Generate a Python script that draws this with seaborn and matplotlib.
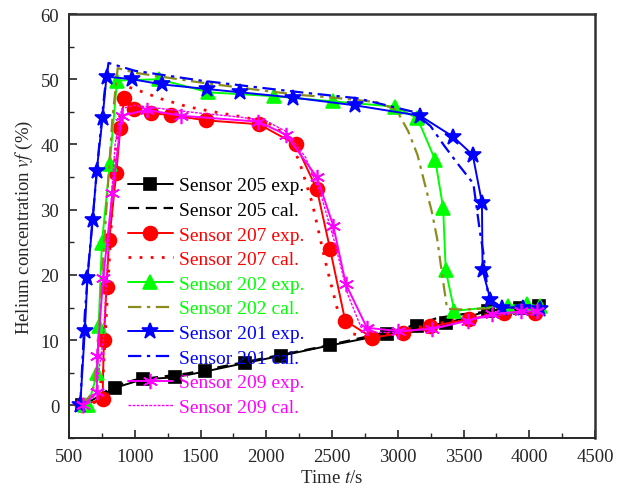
import numpy as np
import pandas as pd
import matplotlib
matplotlib.use("Agg")
import matplotlib.pyplot as plt
import seaborn as sns
from matplotlib.ticker import MultipleLocator

sns.set_style("ticks")
plt.rcParams["font.family"] = ["Liberation Serif", "DejaVu Serif"]
plt.rcParams["mathtext.fontset"] = "stix"

# Sensor 205
t205_exp = [600, 850, 1060, 1305, 1535, 1840, 2110, 2485, 2915, 3150, 3370, 3690, 3930, 4075]
c205_exp = [0, 2.7, 4.0, 4.3, 5.2, 6.5, 7.6, 9.2, 10.9, 12.1, 12.6, 14.5, 15.0, 15.2]
t205_cal = [600, 700, 800, 900, 1000, 1200, 1400, 1600, 1800, 2000, 2200, 2400, 2600, 2800,
            3000, 3200, 3300, 3500, 3800, 4080]
c205_cal = [0, 1.2, 2.4, 3.3, 3.9, 4.4, 4.9, 5.7, 6.5, 7.3, 8.1, 8.9, 9.8, 10.7,
            11.6, 12.7, 13.4, 14.0, 14.6, 15.0]

# Sensor 207
t207_exp = [600, 755, 765, 785, 805, 860, 890, 920, 995, 1125, 1275, 1540, 1945, 2225,
            2385, 2485, 2600, 2805, 3040, 3245, 3540, 3805, 4045]
c207_exp = [0, 1.0, 10.0, 18.2, 25.3, 35.7, 42.6, 47.2, 45.4, 44.8, 44.5, 43.7, 43.1, 40.0,
            33.1, 24.0, 13.0, 10.4, 11.1, 12.1, 13.2, 14.2, 14.2]
t207_cal = [600, 700, 760, 800, 850, 900, 950, 1000, 1200, 1400, 1600, 1800, 2000, 2150,
            2250, 2350, 2450, 2550, 2650, 2750, 2900, 3100, 3300, 3500, 3700, 3900, 4080]
c207_cal = [0, 0.5, 5, 20, 38, 47, 48.8, 48.5, 47, 45.8, 45, 44.3, 43.5, 41.5,
            37.5, 31, 22, 14, 11, 10.6, 11, 11.8, 12.5, 13.3, 14, 14.4, 14.6]

# Sensor 202
t202_exp = [620, 645, 715, 725, 750, 810, 865, 1185, 1560, 2060, 2510, 2980, 3150, 3285,
            3345, 3365, 3430, 3840, 3980, 4080]
c202_exp = [0, 0, 5.0, 12.1, 24.9, 37.0, 49.8, 50.0, 48.0, 47.4, 46.6, 45.8, 44.0, 37.6,
            30.3, 20.7, 14.5, 15.3, 15.5, 15.2]
t202_cal = [600, 680, 720, 750, 790, 830, 870, 1000, 1500, 2000, 2250, 2500, 2840, 2990,
            3080, 3150, 3260, 3300, 3335, 3375, 3500, 3800, 4080]
c202_cal = [0, 2, 8, 19.5, 32, 44, 51.7, 51.0, 49.5, 48.2, 47.6, 47.2, 46.5, 45.3,
            42, 38.4, 29.6, 25.5, 20.4, 14.8, 14.7, 15.0, 15.2]

# Sensor 201
t201_exp = [585, 620, 640, 680, 710, 755, 785, 980, 1210, 1550, 1800, 2200, 2675, 3170,
            3420, 3570, 3640, 3645, 3705, 3790, 3950, 4080]
c201_exp = [0, 11.4, 19.5, 28.4, 35.9, 44.1, 50.4, 50.0, 49.2, 48.5, 48.0, 47.2, 46.0, 44.4,
            41.2, 38.4, 31.1, 20.7, 16.2, 15.0, 15.0, 14.8]
t201_cal = [585, 620, 650, 690, 730, 770, 800, 1000, 1500, 2000, 2260, 2690, 3120, 3250,
            3350, 3450, 3575, 3625, 3650, 3690, 3800, 4080]
c201_cal = [0, 14, 22, 31, 40, 48, 52.5, 51.3, 49.8, 48.6, 48.0, 47.1, 45.0, 42.8,
            39.9, 37.2, 34.0, 26.6, 23.5, 16.3, 15.0, 15.0]

# Sensor 209
t209_exp = [610, 710, 715, 760, 830, 900, 1090, 1355, 1940, 2150, 2385, 2510, 2605, 2765,
            3000, 3260, 3535, 3715, 3940, 4060]
c209_exp = [0, 2.0, 7.6, 19.6, 32.6, 44.4, 45.3, 44.4, 43.5, 41.5, 35.0, 27.5, 18.6, 11.9,
            11.4, 11.7, 13.0, 14.0, 14.4, 14.4]
t209_cal = [600, 700, 760, 800, 850, 900, 1000, 1200, 1500, 1800, 2000, 2150, 2300, 2420,
            2520, 2620, 2720, 2800, 3000, 3300, 3600, 3900, 4080]
c209_cal = [0, 1.5, 10, 25, 40, 45.5, 46.0, 45.5, 44.8, 44.2, 43.6, 42, 38, 32,
            25, 17, 12, 11.2, 11.2, 12, 13.3, 14.2, 14.6]

series = [
    ("Sensor 205 exp.", t205_exp, c205_exp, "black", "-", "s", 1.4, 8),
    ("Sensor 205 cal.", t205_cal, c205_cal, "black", (0, (5, 3)), None, 1.6, 0),
    ("Sensor 207 exp.", t207_exp, c207_exp, "#ff0000", "-", "o", 1.4, 10),
    ("Sensor 207 cal.", t207_cal, c207_cal, "#ff0000", (0, (1, 3)), None, 2.0, 0),
    ("Sensor 202 exp.", t202_exp, c202_exp, "#00ff00", "-", "^", 1.4, 10),
    ("Sensor 202 cal.", t202_cal, c202_cal, "#8c8c1e", (0, (6, 2.5, 1.5, 2.5)), None, 1.6, 0),
    ("Sensor 201 exp.", t201_exp, c201_exp, "#0000ff", "-", "*", 1.4, 12),
    ("Sensor 201 cal.", t201_cal, c201_cal, "#0000ff", (0, (6, 2.5, 1.5, 2.5)), None, 1.6, 0),
    ("Sensor 209 exp.", t209_exp, c209_exp, "#ff00ff", "-", (6, 2, 0), 1.4, 11),
    ("Sensor 209 cal.", t209_cal, c209_cal, "#ff00ff", (0, (2, 1)), None, 1.0, 0),
]

fig = plt.figure(figsize=(6.18, 4.89), dpi=100)
ax = fig.add_axes([0.1117, 0.1022, 0.8511, 0.8671])

handles = []
for label, t, c, color, ls, mk, lw, ms in series:
    df = pd.DataFrame({"t": t, "c": c})
    sns.lineplot(data=df, x="t", y="c", ax=ax, color=color, linestyle=ls, linewidth=lw,
                 marker=mk, markersize=ms, markeredgecolor=color, markerfacecolor=color,
                 markeredgewidth=1.2, sort=False, estimator=None, label=label, legend=False)
    handles.append(ax.lines[-1])

ax.set_xlim(500, 4500)
ax.set_ylim(-5, 60)
ax.xaxis.set_major_locator(MultipleLocator(500))
ax.xaxis.set_minor_locator(MultipleLocator(250))
ax.yaxis.set_major_locator(MultipleLocator(10))
ax.yaxis.set_minor_locator(MultipleLocator(5))
ax.tick_params(which="major", direction="in", length=6, width=1.2, labelsize=13.5,
               top=False, right=False, pad=7)
ax.tick_params(which="minor", direction="in", length=3.5, width=1.0, top=False, right=False)
for side in ["left", "bottom"]:
    ax.spines[side].set_linewidth(1.4)
for side in ["top", "right"]:
    ax.spines[side].set_linewidth(1.8)
    ax.spines[side].set_color("#333333")

ax.set_xlabel("Time $t$/s", fontsize=13.5, labelpad=3)
ax.set_ylabel("Helium concentration $vf$ (%)", fontsize=13.5, labelpad=4)

leg = ax.legend(handles=handles, labels=[s[0] for s in series], loc="upper left",
                bbox_to_anchor=(0.112, 0.616), frameon=False, fontsize=14,
                handlelength=2.3, handletextpad=0.35, labelspacing=0.36,
                borderaxespad=0, borderpad=0)
for txt, s in zip(leg.get_texts(), series):
    txt.set_color(s[3] if s[0] != "Sensor 202 cal." else "#00ff00")

fig.savefig("out.png", dpi=100, facecolor="white")
